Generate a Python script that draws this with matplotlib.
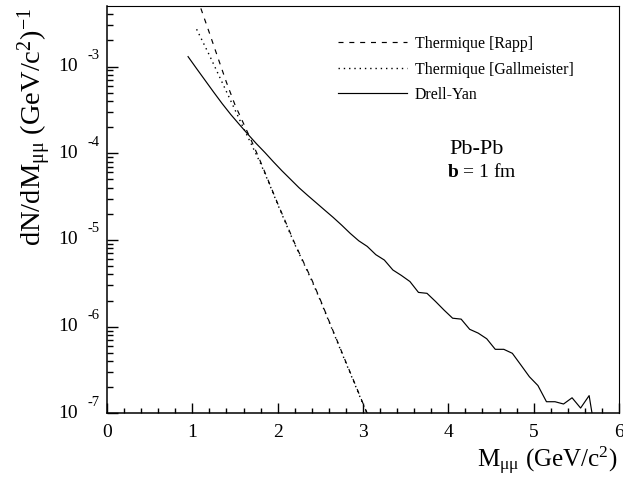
import numpy as np
import matplotlib
matplotlib.use('Agg')
import matplotlib.pyplot as plt
from matplotlib.ticker import MultipleLocator, LogLocator, NullFormatter, FixedLocator
from matplotlib.transforms import blended_transform_factory, offset_copy

plt.rcParams['font.family'] = ['Liberation Serif', 'DejaVu Serif']
plt.rcParams['mathtext.fontset'] = 'custom'
plt.rcParams['mathtext.rm'] = 'Liberation Serif'
plt.rcParams['mathtext.it'] = 'Liberation Serif:italic'
plt.rcParams['mathtext.bf'] = 'Liberation Serif:bold'
plt.rcParams['lines.scale_dashes'] = False

# ---- data ----
mass_rapp = [1.1, 1.2, 1.3, 1.4, 1.5, 1.6, 1.7, 1.8, 1.9, 2.0, 2.1, 2.2, 2.3, 2.4,
             2.5, 2.6, 2.7, 2.8, 2.9, 3.0, 3.05]
rapp = [4.68e-3, 2.44e-3, 1.26e-3, 6.56e-4, 3.61e-4, 2.20e-4, 1.34e-4, 7.94e-5,
        4.57e-5, 2.63e-5, 1.55e-5, 9.12e-6, 5.62e-6, 3.47e-6, 2.04e-6, 1.17e-6,
        6.76e-7, 3.89e-7, 2.26e-7, 1.30e-7, 1.0e-7]

mass_gall = [1.05, 1.1, 1.2, 1.3, 1.4, 1.5, 1.6, 1.7, 1.8, 1.9, 2.0, 2.1, 2.2, 2.3,
             2.4, 2.5, 2.6, 2.7, 2.8, 2.9, 3.0, 3.05]
gall = [2.69e-3, 2.14e-3, 1.35e-3, 8.32e-4, 5.13e-4, 3.16e-4, 1.95e-4, 1.22e-4,
        7.59e-5, 4.47e-5, 2.57e-5, 1.51e-5, 8.91e-6, 5.50e-6, 3.39e-6, 2.00e-6,
        1.15e-6, 6.61e-7, 3.80e-7, 2.21e-7, 1.27e-7, 9.8e-8]

mass_dy = [0.95, 1.05, 1.15, 1.25, 1.35, 1.45, 1.55, 1.65, 1.75, 1.85, 1.95, 2.05,
           2.15, 2.25, 2.35, 2.45, 2.55, 2.65, 2.75, 2.85, 2.95, 3.05, 3.15, 3.25,
           3.35, 3.45, 3.55, 3.65, 3.75, 3.85, 3.95, 4.05, 4.15, 4.25, 4.35, 4.45,
           4.55, 4.65, 4.75, 4.85, 4.95, 5.05, 5.15, 5.25, 5.35, 5.45, 5.55, 5.65, 5.75]
drell_yan = [1.30e-3, 9.46e-4, 6.92e-4, 5.06e-4, 3.73e-4, 2.80e-4, 2.15e-4, 1.66e-4,
             1.29e-4, 1.02e-4, 7.96e-5, 6.27e-5, 5.01e-5, 4.00e-5, 3.27e-5, 2.69e-5,
             2.21e-5, 1.82e-5, 1.48e-5, 1.19e-5, 9.77e-6, 8.41e-6, 6.76e-6, 5.86e-6,
             4.50e-6, 3.89e-6, 3.31e-6, 2.48e-6, 2.42e-6, 1.95e-6, 1.55e-6, 1.25e-6,
             1.22e-6, 9.31e-7, 8.41e-7, 7.24e-7, 5.47e-7, 5.47e-7, 4.92e-7, 3.61e-7,
             2.64e-7, 2.09e-7, 1.36e-7, 1.36e-7, 1.28e-7, 1.51e-7, 1.15e-7, 1.60e-7, 4.0e-8]

series_labels = ['Thermique [Rapp]', 'Thermique [Gallmeister]', 'Drell-Yan']
x_ticks = [0, 1, 2, 3, 4, 5, 6]
y_exponents = [-7, -6, -5, -4, -3]

# ---- figure ----
W, H = 623, 480
fig = plt.figure(figsize=(W / 100, H / 100), dpi=100)
ax_l, ax_r, ax_t, ax_b = 107, 619, 6, 413.3
ax = fig.add_axes([ax_l / W, 1 - ax_b / H, (ax_r - ax_l) / W, (ax_b - ax_t) / H])

lw = 0.85
ax.plot(mass_rapp, rapp, color='black', lw=lw, ls=(0, (3.6, 4.2)), label=series_labels[0])
ax.plot(mass_gall, gall, color='black', lw=1.0, ls=(0, (1.0, 2.8)), label=series_labels[1])
ax.plot(mass_dy, drell_yan, color='black', lw=lw, ls='-', label=series_labels[2])

ax.set_yscale('log')
ax.set_xlim(0, 6)
ax.set_ylim(1e-7, 10 ** -2.302)

# ticks
ax.xaxis.set_major_locator(FixedLocator(x_ticks))
ax.set_xticklabels([str(t) for t in x_ticks])
ax.xaxis.set_minor_locator(MultipleLocator(0.2))
ax.yaxis.set_major_locator(FixedLocator([10.0 ** e for e in y_exponents]))
ax.yaxis.set_minor_locator(LogLocator(base=10, subs=np.arange(2, 10)))
ax.yaxis.set_major_formatter(NullFormatter())
ax.yaxis.set_minor_formatter(NullFormatter())
ax.tick_params(axis='both', which='both', direction='in', top=False, right=False, color='black')
ax.tick_params(axis='x', which='major', length=7.2, width=1.0, labelsize=14, pad=7.7)
ax.tick_params(axis='x', which='minor', length=3.6, width=1.0)
ax.tick_params(axis='y', which='major', length=7.9, width=1.0)
ax.tick_params(axis='y', which='minor', length=4.3, width=1.0)
for s in ['left', 'bottom']:
    ax.spines[s].set_linewidth(1.1)
for s in ['top', 'right']:
    ax.spines[s].set_linewidth(0.8)

# y tick labels "10" with detached exponent (ROOT style)
trans = blended_transform_factory(ax.transAxes, ax.transData)
trans_sup = offset_copy(trans, fig=fig, x=0, y=11, units='dots')
x10 = (78 - ax_l) / (ax_r - ax_l)
xsup = (87 - ax_l) / (ax_r - ax_l)
for e in y_exponents:
    ax.text(x10, 10.0 ** e, '10', transform=trans, ha='right', va='center', fontsize=14,
            clip_on=False)
    ax.text(xsup, 10.0 ** e, str(e), transform=trans_sup, ha='left', va='center',
            fontsize=10.5, clip_on=False)

# axis titles
fig.text(35 / W, 1 - 8 / H, r'dN/dM$_{\mathrm{μμ}}$ (GeV/c$^{2}$)$^{-1}$', rotation=90,
         ha='center', va='top', fontsize=20.5)
fig.text(617 / W, 1 - 467 / H, r'M$_{\mathrm{μμ}}$ (GeV/c$^{2}$)', ha='right', va='baseline',
         fontsize=18)

# legend
leg = ax.legend(loc='upper left', bbox_to_anchor=(338 / W, 1 - 36 / H),
                bbox_transform=fig.transFigure, frameon=False, fontsize=11.4,
                handlelength=4.35, handletextpad=0.5, labelspacing=0.6, borderpad=0,
                borderaxespad=0)

# annotations
fig.text(477 / W, 1 - 150 / H, 'Pb-Pb', ha='center', va='center', fontsize=16)
fig.text(482 / W, 1 - 172 / H, r'$\mathbf{b}$ = 1 fm', ha='center', va='center', fontsize=14)

fig.savefig('out.png', dpi=100)
